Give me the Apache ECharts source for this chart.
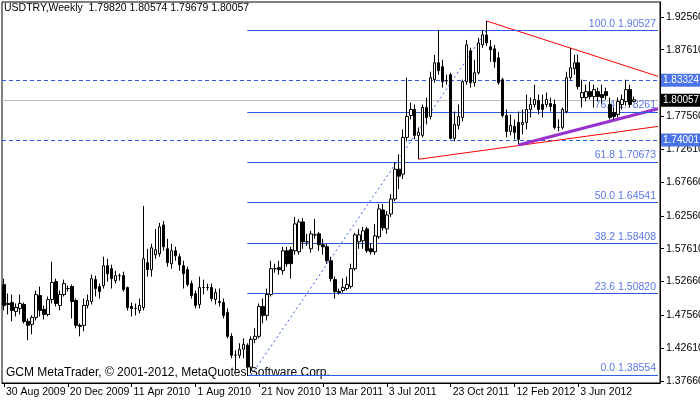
<!DOCTYPE html>
<html><head><meta charset="utf-8">
<script src="https://cdn.jsdelivr.net/npm/echarts@6/dist/echarts.min.js"></script>
<style>html,body{margin:0;padding:0;background:#fff}#c{width:700px;height:402px}</style>
</head><body><div id="c"></div>
<script>
const openV=[1.522,1.4935,1.495,1.4815,1.486,1.492,1.4665,1.462,1.4725,1.5055,1.4845,1.477,1.4995,1.5265,1.4905,1.507,1.516,1.519,1.498,1.4605,1.4605,1.4905,1.4965,1.5295,1.519,1.5205,1.5505,1.546,1.528,1.5355,1.5355,1.5175,1.489,1.486,1.483,1.4875,1.555,1.5445,1.567,1.5685,1.612,1.576,1.5535,1.573,1.564,1.5505,1.5445,1.5235,1.5085,1.492,1.5175,1.5175,1.5175,1.4995,1.4965,1.495,1.48,1.444,1.4155,1.4155,1.4245,1.4305,1.3975,1.4395,1.444,1.489,1.4755,1.507,1.546,1.5475,1.543,1.573,1.5745,1.573,1.5715,1.6165,1.5865,1.576,1.597,1.5985,1.582,1.579,1.558,1.5295,1.5115,1.513,1.516,1.519,1.546,1.5865,1.588,1.606,1.576,1.5715,1.594,1.6345,1.606,1.6285,1.651,1.696,1.6885,1.744,1.777,1.786,1.747,1.747,1.789,1.7755,1.831,1.8565,1.8505,1.8295,1.8385,1.7425,1.762,1.774,1.828,1.8745,1.8265,1.8415,1.8835,1.8985,1.8805,1.8775,1.864,1.831,1.777,1.753,1.7605,1.7665,1.7635,1.7665,1.786,1.7935,1.7995,1.7935,1.7935,1.795,1.7935,1.759,1.759,1.783,1.834,1.8475,1.8565,1.804,1.804,1.813,1.8055,1.813,1.8085,1.813,1.7935,1.7815,1.7785,1.7935,1.798,1.816,1.7982];
const closeV=[1.4905,1.492,1.483,1.4875,1.4935,1.4665,1.4605,1.4725,1.507,1.483,1.477,1.4995,1.525,1.4935,1.507,1.5235,1.516,1.4965,1.4605,1.459,1.4905,1.498,1.531,1.516,1.5115,1.5505,1.5385,1.531,1.5355,1.5355,1.5145,1.4875,1.486,1.486,1.4905,1.561,1.5445,1.5775,1.5745,1.609,1.579,1.555,1.573,1.5655,1.552,1.5385,1.522,1.5055,1.4905,1.5175,1.5175,1.5175,1.501,1.51,1.495,1.4755,1.444,1.4155,1.4155,1.4245,1.432,1.3975,1.4395,1.444,1.489,1.4755,1.507,1.546,1.546,1.5445,1.573,1.5535,1.5535,1.6135,1.6165,1.5865,1.5865,1.5985,1.597,1.582,1.579,1.558,1.531,1.5115,1.51,1.5175,1.522,1.546,1.597,1.597,1.603,1.573,1.5715,1.5955,1.636,1.6075,1.627,1.651,1.696,1.6855,1.744,1.7755,1.786,1.747,1.7515,1.789,1.774,1.834,1.8565,1.8445,1.828,1.8295,1.7425,1.7635,1.7755,1.828,1.8835,1.8265,1.8415,1.8865,1.8985,1.8865,1.876,1.858,1.8265,1.777,1.753,1.762,1.7515,1.741,1.7665,1.786,1.7935,1.801,1.786,1.786,1.801,1.7905,1.759,1.759,1.786,1.834,1.849,1.8565,1.8205,1.8115,1.813,1.8055,1.816,1.8055,1.804,1.807,1.774,1.7755,1.798,1.801,1.816,1.7935,1.80057];
const lowV=[1.483,1.477,1.4665,1.474,1.477,1.4635,1.438,1.447,1.468,1.474,1.4695,1.474,1.4935,1.489,1.483,1.504,1.5115,1.471,1.456,1.444,1.4515,1.486,1.492,1.504,1.501,1.516,1.5265,1.516,1.5235,1.528,1.5115,1.483,1.474,1.4755,1.4785,1.483,1.534,1.534,1.561,1.564,1.573,1.549,1.546,1.558,1.543,1.516,1.519,1.501,1.486,1.486,1.507,1.513,1.4965,1.492,1.489,1.471,1.441,1.411,1.393,1.411,1.411,1.384,1.3885,1.4335,1.441,1.4635,1.468,1.504,1.54,1.537,1.537,1.549,1.531,1.567,1.567,1.576,1.5805,1.57,1.591,1.573,1.567,1.5535,1.5265,1.501,1.507,1.51,1.513,1.516,1.543,1.576,1.576,1.57,1.567,1.567,1.591,1.603,1.5985,1.624,1.648,1.666,1.681,1.738,1.771,1.741,1.711,1.744,1.7635,1.771,1.8265,1.8385,1.819,1.8235,1.741,1.738,1.756,1.768,1.8235,1.819,1.8205,1.8385,1.879,1.882,1.858,1.849,1.8235,1.774,1.744,1.747,1.741,1.7335,1.7485,1.756,1.774,1.789,1.7785,1.774,1.789,1.783,1.756,1.753,1.756,1.78,1.831,1.8385,1.816,1.789,1.798,1.801,1.789,1.798,1.795,1.801,1.771,1.771,1.774,1.786,1.792,1.789,1.79679];
const highV=[1.531,1.5085,1.507,1.4935,1.507,1.495,1.471,1.4755,1.513,1.519,1.4905,1.504,1.5565,1.531,1.513,1.5295,1.5205,1.522,1.501,1.4635,1.501,1.507,1.537,1.5355,1.5235,1.564,1.561,1.552,1.543,1.5385,1.5415,1.519,1.495,1.4935,1.501,1.6405,1.576,1.5835,1.606,1.615,1.618,1.591,1.5835,1.579,1.5685,1.558,1.549,1.528,1.513,1.534,1.5295,1.5235,1.5235,1.516,1.516,1.501,1.486,1.4485,1.423,1.4335,1.441,1.4335,1.444,1.456,1.4935,1.501,1.516,1.558,1.5535,1.558,1.579,1.579,1.579,1.624,1.621,1.6225,1.5985,1.603,1.621,1.6015,1.591,1.5835,1.564,1.534,1.516,1.531,1.534,1.5535,1.6,1.606,1.609,1.609,1.5835,1.6135,1.6435,1.6435,1.633,1.6585,1.7065,1.7185,1.756,1.834,1.7965,1.7935,1.759,1.7935,1.804,1.843,1.8685,1.906,1.861,1.8385,1.8415,1.783,1.7935,1.831,1.891,1.879,1.861,1.894,1.906,1.9195,1.891,1.8835,1.873,1.834,1.786,1.7785,1.771,1.783,1.786,1.8085,1.804,1.8235,1.8085,1.8085,1.8115,1.804,1.801,1.771,1.789,1.843,1.879,1.8685,1.8685,1.831,1.8235,1.828,1.8235,1.819,1.8235,1.819,1.804,1.789,1.804,1.8085,1.831,1.8235,1.80574];
const yTicks=[1.37660,1.42610,1.47560,1.52660,1.57610,1.62560,1.67660,1.72610,1.77560,1.82660,1.87610,1.92560];
const xTickIdx=[0,16,32,48,64,80,96,112,128,144];
const fiboLevels=[0.0,23.6,38.2,50.0,61.8,76.4,100.0];
const fiboPrices=[1.38554,1.50820,1.58408,1.64541,1.70673,1.78261,1.90527];
const dashedLevels=[1.83324,1.74001];
const lastPrice=1.80057;
const fiboDiag=[[62,1.38554],[121,1.90527]];
const redUpper=[[121,1.9195],[164.4,1.836]];
const redLower=[[104,1.711],[164.4,1.7605]];
const purple=[[129,1.7325],[164.4,1.7872]];

const MON=['Jan','Feb','Mar','Apr','May','Jun','Jul','Aug','Sep','Oct','Nov','Dec'];
const cats=[];const start=Date.UTC(2009,7,30);
for(let i=0;i<165;i++){const d=new Date(start+i*7*86400000);cats.push(d.getUTCDate()+' '+MON[d.getUTCMonth()]+' '+d.getUTCFullYear());}
const candles=openV.map((o,i)=>[o,closeV[i],lowV[i],highV[i]]);
const F='Tahoma, "Liberation Sans", sans-serif';
const blue='#2f5ce6';
const chart=echarts.init(document.getElementById('c'));
const fiboML=fiboPrices.map((p,i)=>[{coord:[61,p],label:{formatter:fiboLevels[i].toFixed(1)+' '+p.toFixed(5)}},{coord:[164.4,p]}]);
const lineSeries=(d,color,w,type)=>({type:'line',data:d,symbol:'none',silent:true,animation:false,lineStyle:{color:color,width:w,type:type||'solid'},z:3});
const boxLabel=(txt,bg)=>({position:'end',formatter:txt,backgroundColor:bg,color:'#fff',fontFamily:F,fontSize:10,padding:[2,2,1,2],distance:1});
chart.setOption({
 animation:false,
 grid:{left:2,right:40,top:2,bottom:19,show:true,borderColor:'#000',borderWidth:1,containLabel:false,outerBoundsMode:'none'},
 xAxis:{type:'category',data:cats,boundaryGap:true,
  axisLine:{lineStyle:{color:'#000'}},
  axisTick:{show:true,alignWithLabel:true,interval:(i)=>xTickIdx.includes(i),lineStyle:{color:'#000'},length:4},
  axisLabel:{interval:(i)=>xTickIdx.includes(i),showMinLabel:true,hideOverlap:false,color:'#000',fontFamily:F,fontSize:10.5,align:'left',margin:4,padding:[0,0,0,2]},
  splitLine:{show:false}},
 yAxis:{type:'value',position:'right',min:1.3736,max:1.9481,scale:true,
  axisLine:{show:true,lineStyle:{color:'#000'}},
  axisTick:{show:true,customValues:yTicks,length:4,lineStyle:{color:'#000'}},
  axisLabel:{customValues:yTicks,formatter:v=>v.toFixed(5),color:'#000',fontFamily:F,fontSize:10.5,margin:6},
  splitLine:{show:false}},
 graphic:[
  {type:'text',left:4,top:3,style:{text:'USDTRY,Weekly  1.79820 1.80574 1.79679 1.80057',fontFamily:F,fontSize:10.5,fill:'#000'}},
  {type:'text',left:6,top:367,style:{text:'GCM MetaTrader, © 2001-2012, MetaQuotes Software Corp.',fontFamily:F,fontSize:12,fill:'#000'}}
 ],
 series:[
  {type:'candlestick',data:candles,barWidth:3,z:5,
   itemStyle:{color:'#fff',color0:'#000',borderColor:'#000',borderColor0:'#000',borderWidth:1},
   markLine:{symbol:'none',silent:true,animation:false,z:2,
    data:[
     ...dashedLevels.map(p=>({yAxis:p,lineStyle:{color:blue,type:[4,3],width:1},label:boxLabel(p.toFixed(5),'#4a74e8')})),
     {yAxis:lastPrice,lineStyle:{color:'#bdbdbd',type:'solid',width:1},label:boxLabel(lastPrice.toFixed(5),'#000')}
    ]}},
  {type:'line',data:[],markLine:{symbol:'none',silent:true,animation:false,lineStyle:{color:blue,type:'solid',width:1},
    label:{position:'insideEndTop',color:'#5a78e6',fontFamily:F,fontSize:10.5,distance:[2,1]},data:fiboML}},
  lineSeries(fiboDiag,blue,1,[2,3]),
  lineSeries(redUpper,'#ff0000',1),
  lineSeries(redLower,'#ff0000',1),
  lineSeries(purple,'#9932cc',3)
 ]
});
</script></body></html>
